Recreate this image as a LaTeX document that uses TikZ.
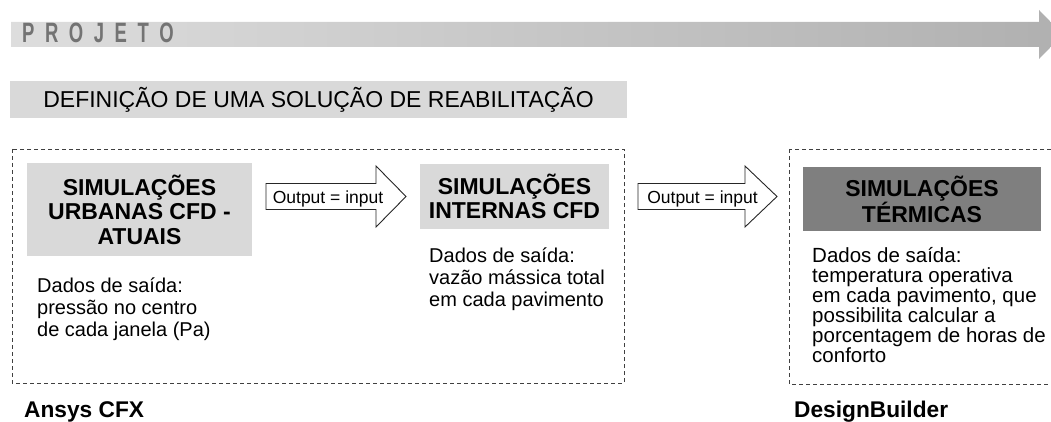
\documentclass[tikz,border=0pt]{standalone}
\usepackage{fontspec}
\setmainfont{Liberation Sans}
\usepackage{graphicx}
\definecolor{boxgray}{HTML}{D9D9D9}
\definecolor{darkbox}{HTML}{7F7F7F}
\definecolor{projgray}{HTML}{737373}
\definecolor{dashgray}{HTML}{404040}
\definecolor{barleft}{HTML}{DDDDDD}
\definecolor{barright}{HTML}{B0B0B0}
\begin{document}
\begin{tikzpicture}[x=1pt,y=-1pt,
  graybox/.style={fill=boxgray, inner sep=0pt, align=center, font=\fontsize{23}{24.5}\selectfont\bfseries},
  dashbox/.style={draw=dashgray, line width=0.9pt, dash pattern=on 4pt off 3pt},
  arrowshape/.style={draw=black!85, line width=0.9pt, fill=white, line join=miter},
  arrowtext/.style={inner sep=0pt, anchor=base, font=\fontsize{17.5}{17.5}\selectfont},
  bodytext/.style={inner sep=0pt, anchor=north west, align=left, font=\fontsize{20}{22}\selectfont},
  toollabel/.style={inner sep=0pt, anchor=base west, font=\fontsize{22.7}{22.7}\selectfont\bfseries}]
\useasboundingbox (0,0) rectangle (1051,422);
\clip (0,0) rectangle (1051,422);
% top process arrow
\shade[left color=barleft,right color=barright] (11,22) -- (1039,22) -- (1039,10) -- (1063,34.5) -- (1039,59) -- (1039,47) -- (11,47) -- cycle;
\node[anchor=base west, inner sep=0pt, text=projgray, font=\fontsize{28}{28}\selectfont\bfseries] (proj) at (22,42.5)
  {\scalebox{0.66}[1]{P\kern16pt R\kern16pt O\kern16pt J\kern16pt E\kern16pt T\kern16pt O}};
% definition bar
\node[fill=boxgray, inner sep=0pt, minimum width=617, minimum height=37, font=\fontsize{23}{23}\selectfont] (def) at (318.5,99.5)
  {DEFINIÇÃO DE UMA SOLUÇÃO DE REABILITAÇÃO};
% dashed frames
\draw[dashbox] (12,149) rectangle (624,383);
\draw[dashbox] (789,149) rectangle (1070,384);
% simulation boxes
\node[graybox, minimum width=225, minimum height=93] (urb) at (139.5,209.5) {SIMULAÇÕES\\URBANAS CFD -\\ATUAIS};
\node[graybox, minimum width=189, minimum height=65] (int) at (514.5,196.5) {SIMULAÇÕES\\INTERNAS CFD};
\node[graybox, fill=darkbox, minimum width=238, minimum height=64] (ter) at (922,199) {SIMULAÇÕES\\TÉRMICAS};
% output = input arrows
\draw[arrowshape] (266,183.5) -- (376,183.5) -- (376,166) -- (406,196.5) -- (376,227) -- (376,209.5) -- (266,209.5) -- cycle;
\node[arrowtext] (oi1) at (328,203) {Output = input};
\draw[arrowshape] (638,183.5) -- (745,183.5) -- (745,166) -- (777,196.5) -- (745,227) -- (745,209.5) -- (638,209.5) -- cycle;
\node[arrowtext] (oi2) at (702.5,203) {Output = input};
% output data texts
\node[bodytext] (d1) at (37,277.4) {Dados de saída:\\pressão no centro\\de cada janela (Pa)};
\node[bodytext] (d2) at (429,247.4) {Dados de saída:\\vazão mássica total\\em cada pavimento};
\node[bodytext, font=\fontsize{20.5}{20}\selectfont] (d3) at (812,247) {Dados de saída:\\temperatura operativa\\em cada pavimento, que\\possibilita calcular a\\porcentagem de horas de\\conforto};
% tool labels
\node[toollabel] (ansys) at (24,417) {Ansys CFX};
\node[toollabel] (db) at (794,417) {DesignBuilder};
\end{tikzpicture}
\end{document}
